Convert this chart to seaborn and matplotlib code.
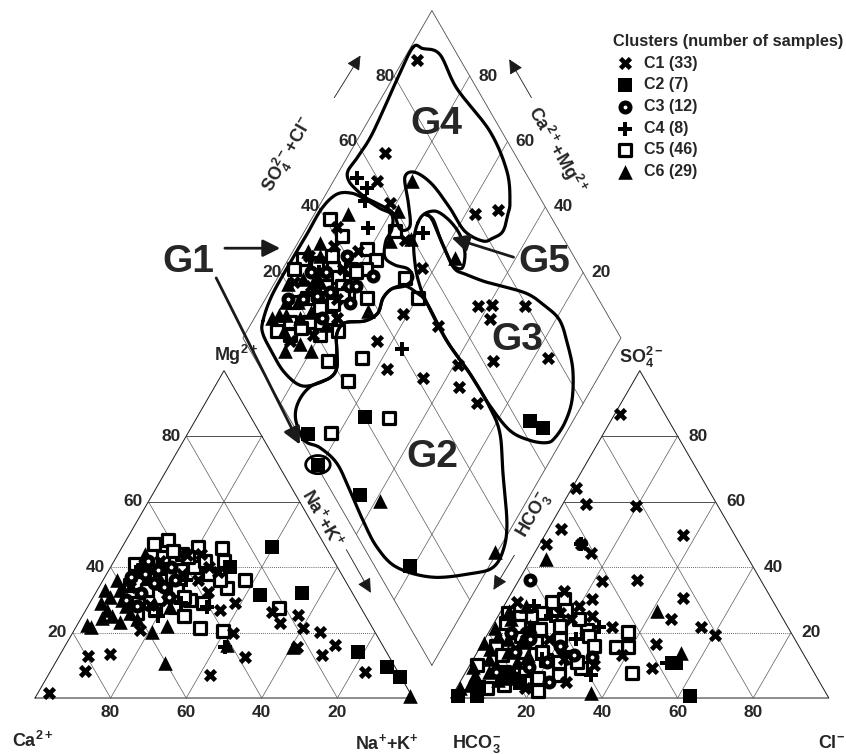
import numpy as np
import pandas as pd
import matplotlib.pyplot as plt
import seaborn as sns
from matplotlib.patches import Ellipse

# cation triangle samples: (Mg2+ %, Na+ + K+ %)
cat_C1 = [(1.5, 3.0), (12.8, 7.6), (8.3, 9.0), (13.5, 13.0), (20.8, 17.4), (7.0, 42.8), (12.5, 49.3),
          (19.9, 42.4), (27.0, 35.4), (32.4, 29.6), (29.0, 38.4), (38.5, 29.1), (43.7, 18.3), (26.3, 49.5),
          (23.0, 53.3), (25.4, 56.9), (21.4, 60.2), (20.2, 65.3), (15.6, 61.5), (13.1, 69.3), (16.2, 71.3),
          (8.0, 83.3), (28.4, 16.2), (42.0, 12.0), (38.0, 20.0), (36.0, 25.0), (34.0, 8.0), (30, 20),
          (40, 26), (44, 22)]
cat_C2 = [(46.2, 39.6), (40.0, 31.6), (31.5, 43.8), (32.1, 54.6), (14.0, 78.4), (9.5, 88.4), (6.4, 93.4)]
cat_C3 = [(38, 10), (35, 14), (32, 12), (40, 16), (30, 9), (36, 19), (42, 9), (28, 13), (34, 17), (37, 7),
          (31, 20), (39, 13)]
cat_C4 = [(27.8, 31.6), (15.6, 42.5), (36, 22), (33, 18), (40, 8), (29, 24), (38, 14), (25, 20)]
cat_C5 = [(48.3, 11.0), (45.9, 26.6), (36.1, 37.6), (33.6, 34.0), (21.4, 33.0), (20.5, 39.5), (27.5, 50.8),
          (43.0, 12.4), (27.0, 18.2), (27.8, 23.1), (30.0, 26.0), (29.0, 12.8), (37.6, 14.3), (34.6, 7.8),
          (40.0, 22.0), (38.0, 27.0), (44.0, 17.0), (35.0, 10.0), (29.0, 30.0), (41.0, 6.0), (33.0, 21.0),
          (25.0, 27.0), (39.0, 19.0), (42.0, 24.0), (46, 20), (42, 29), (36, 31), (31, 24), (26, 14),
          (45, 14), (47, 8), (39, 9), (33, 13), (43, 19)]
cat_C6 = [(22.3, 2.6), (21.7, 4.0), (27.0, 5.5), (23.2, 10.9), (20.2, 20.9), (22.0, 23.9), (10.7, 29.0),
          (16.2, 42.7), (15.6, 60.5), (0.5, 99.0), (31.0, 4.3), (36.0, 3.7), (27.8, 21.8), (24.5, 5.5),
          (38.0, 6.0), (33.0, 6.0), (40.0, 10.0), (30.0, 8.0), (35.0, 16.0), (26.0, 12.0), (24.0, 15.0),
          (29.0, 17.0), (33, 2), (29, 3), (37, 11), (25, 8), (41, 13), (44, 7), (28, 10)]

# anion triangle samples: (SO4 2- %, Cl- %)
an_C1 = [(86.9, 1.2), (64.1, 1.1), (59.3, 6.2), (58.7, 19.6), (49.8, 36.4), (51.7, 3.4), (47.1, 1.7),
         (47.1, 10.9), (44.4, 14.9), (35.6, 22.2), (35.9, 31.3), (30.7, 46.2), (24.0, 46.2), (21.6, 55.5),
         (19.1, 60.4), (16.4, 46.0), (9.1, 48.6), (30.4, 22.2), (25.2, 24.8), (24.0, 19.8), (21.6, 31.8),
         (13.1, 38.8), (32.8, 13.6), (29.2, 3.0), (20.0, 10.0), (15.0, 22.0), (18.0, 17.0), (12, 24),
         (26, 16), (5, 28), (10, 33), (28, 20), (3, 18)]
an_C2 = [(0.5, 1.6), (0.5, 6.8), (3.3, 5.7), (4.6, 15.9), (0.5, 62.9), (10.6, 54.2), (7.0, 12.0)]
an_C3 = [(12.5, 31.2), (4.9, 23.6), (9.4, 16.1), (35.9, 2.9), (14, 10), (18, 12), (11, 20), (8, 8),
         (16, 21), (6, 14), (20, 6), (13, 26)]
an_C4 = [(21.6, 28.4), (7.0, 33.6), (10.6, 51.8), (47.0, 11.0), (25, 14), (12, 18), (18, 24), (28, 8)]
an_C5 = [(29.2, 12.2), (30.4, 14.8), (26.1, 10.8), (25.2, 8.7), (20.7, 25.7), (20.1, 36.8), (15.5, 39.0),
         (15.5, 35.9), (7.6, 44.1), (9.1, 29.9), (12.5, 25.1), (10.9, 23.2), (11.6, 19.5), (24.6, 5.9),
         (17, 14), (22, 18), (14, 12), (19, 9), (9, 15), (6, 20), (23, 3), (16, 4), (8, 10), (13, 7),
         (21, 13), (27, 17), (4, 12), (18, 20), (11, 28), (24, 22), (7, 25), (14, 17), (3, 8), (19, 27),
         (26, 2), (10, 2), (5, 17), (16, 30), (22, 7), (2, 22)]
an_C6 = [(9.4, 1.1), (5.5, 9.7), (1.5, 36.3), (16.7, 0.5), (21.3, 1.0), (42.6, 4.0), (26.7, 41.1),
         (13.7, 54.0), (26.7, 2.1), (12, 4), (18, 6), (8, 6), (14, 8), (22, 10), (4, 3), (19, 3), (28, 6),
         (11, 12), (3, 1), (7, 3), (10, 7), (15, 3), (24, 4), (6, 12), (13, 14), (2, 6), (17, 10)]

# diamond samples: (SO4+Cl %, Ca+Mg %)
dia_C1 = [(88.4, 96.4), (65.8, 90.6), (59.4, 88.5), (59.5, 81.7), (87.0, 52.0), (80.3, 57.5), (58.0, 63.3),
          (46.0, 61.3), (53.4, 50.2), (35.0, 64.1), (33.4, 57.2), (41.5, 46.3), (67.0, 42.7), (70.9, 39.2),
          (68.2, 37.5), (79.5, 30.3), (62.6, 30.4), (77.6, 16.3), (52.8, 39.0), (49.7, 35.4), (52.0, 28.2),
          (43.7, 82.9), (58.0, 72.0), (38.0, 90.0), (30.0, 95.0), (22, 95), (26, 90), (19, 82), (31, 81),
          (37, 84), (12, 87), (42, 92), (28, 78)]
dia_C2 = [(20.2, 55.7), (2.6, 68.2), (0.5, 60.8), (6.9, 45.0), (9.4, 21.0), (63.3, 11.4), (65.6, 7.0)]
dia_C3 = [(44, 75), (33.7, 77), (26, 86.8), (30, 84), (22, 90), (36, 80), (28, 92), (40, 85), (18, 94),
          (24, 82), (32, 88), (38, 78)]
dia_C4 = [(54.6, 94.2), (55.7, 90.0), (53.2, 88.6), (49.8, 83.7), (63.6, 68.4), (40.4, 56.3), (30, 90),
          (25, 88)]
dia_C5 = [(56.5, 76.1), (52.0, 66.3), (52.4, 59.8), (28.4, 65.5), (21.2, 65.7), (19.0, 74.0), (26.4, 49.2),
          (8.8, 62.2), (41.2, 95.1), (41.8, 89.4), (34.5, 86.9), (34.4, 84.2), (34.2, 81.7), (34.7, 79.1),
          (23.0, 89.2), (29.0, 81.4), (46.4, 80.7), (47.1, 76.7), (38.9, 73.3), (26.2, 75.9), (26.0, 80.0),
          (20, 85), (30, 86), (15, 90), (13, 88), (17, 86), (21, 80), (25, 84), (36, 89), (39, 82),
          (43, 78), (31, 92), (19, 92), (10, 92), (28, 96), (24, 97), (33, 80), (40, 80)]
dia_C6 = [(68.6, 79.2), (60.4, 78.4), (59.6, 70.7), (68.3, 56.1), (10.7, 95.4), (20.2, 96.3), (30.5, 96.0),
          (46.8, 91.2), (37.2, 71.1), (9.1, 86.9), (11.4, 38.9), (34.0, 0.5), (15, 92), (18, 88), (25, 93),
          (22, 86), (14, 84), (28, 90), (12, 90), (24, 80), (53.7, 75.9), (17, 94), (27, 86), (33, 92),
          (13, 94), (20, 91), (29, 88), (16, 80), (35, 94)]

# group outlines, diamond coordinates (SO4+Cl %, Ca+Mg %)
G1_line = [(7.9, 97.3), (14.1, 98.8), (23.9, 99.0), (32.8, 98.9), (40.7, 98.9), (46.8, 97.1), (50.9, 93.3),
           (53.5, 88.9), (56.0, 83.6), (58.2, 79.4), (56.0, 77.2), (52.6, 77.0), (49.9, 74.8), (51.3, 71.0),
           (54.2, 66.9), (54.1, 64.2), (50.8, 65.1), (46.9, 68.1), (43.1, 69.0), (39.5, 68.1), (34.9, 70.3),
           (29.3, 75.3), (25.5, 75.8), (22.9, 73.2), (20.3, 70.6), (16.9, 70.9), (10.4, 75.0), (7.3, 78.7),
           (5.6, 84.4), (5.5, 89.6), (5.9, 95.3)]
G2_line = [(0.7, 67.9), (1.4, 73.4), (4.6, 75.5), (10.2, 74.8), (16.9, 70.9), (20.3, 70.6), (22.9, 73.2),
           (25.5, 75.8), (29.3, 75.3), (34.9, 70.3), (39.5, 68.1), (43.1, 69.0), (46.9, 68.1), (50.8, 65.1),
           (52.9, 60.8), (54.0, 56.7), (53.5, 45.6), (54.6, 34.5), (54.7, 24.0), (53.4, 17.4), (48.1, 10.5),
           (41.5, 1.8), (36.4, -1.3), (31.1, -1.2), (24.9, 3.2), (13.7, 13.2), (5.7, 24.2), (3.5, 32.6),
           (3.9, 40.4), (5.0, 48.4), (5.7, 56.0), (3.6, 62.9)]
G3_line = [(63.8, 71.3), (60.0, 69.6), (57.0, 66.0), (55.0, 61.9), (54.0, 56.7), (53.5, 45.6), (54.6, 34.5),
           (55.0, 24.3), (56.5, 15.2), (60.3, 8.4), (64.4, 3.6), (67.3, 2.2), (72.3, 1.9), (77.5, 3.4),
           (82.3, 7.7), (84.8, 12.8), (86.5, 18.8), (84.8, 25.0), (82.1, 31.3), (77.1, 38.5), (72.6, 44.6),
           (68.9, 50.4), (66.6, 54.4), (66.8, 58.9), (67.4, 63.1), (68.1, 68.1), (67.1, 70.8)]
G4_line = [(89.3, 99.4), (91.8, 96.6), (95.4, 91.2), (94.7, 81.5), (96.9, 66.2), (95.3, 55.6), (91.5, 50.2),
           (89.0, 48.8), (85.1, 47.5), (81.4, 49.1), (78.3, 51.3), (75.0, 57.6), (74.6, 65.1), (73.5, 73.5),
           (70.8, 79.8), (67.4, 81.7), (64.6, 77.2), (61.3, 72.9), (58.2, 75.0), (58.8, 79.4), (56.0, 85.1),
           (54.1, 88.5), (52.7, 92.4), (52.0, 95.9), (53.2, 97.7), (57.6, 97.3), (64.1, 96.9), (71.6, 97.6),
           (80.2, 98.7)]
G5_line = [(67.1, 70.8), (68.4, 67.9), (67.4, 63.1), (66.8, 58.9), (66.6, 55.5), (68.6, 52.7), (71.3, 53.8),
           (72.7, 56.3), (73.2, 59.4), (72.4, 63.9), (70.4, 68.3)]

clusters = ['C1', 'C2', 'C3', 'C4', 'C5', 'C6']
counts = [33, 7, 12, 8, 46, 29]
ticks = [20, 40, 60, 80]

sns.set_theme(style='white')
plt.rcParams['font.family'] = ['Liberation Sans', 'DejaVu Sans']
plt.rcParams['font.weight'] = 'bold'
plt.rcParams['mathtext.fontset'] = 'custom'
plt.rcParams['mathtext.rm'] = 'Liberation Sans:bold'
plt.rcParams['mathtext.it'] = 'Liberation Sans:bold'
plt.rcParams['mathtext.bf'] = 'Liberation Sans:bold'
plt.rcParams['mathtext.default'] = 'rm'

H = np.sqrt(3) / 2
GAP = 10


def cat_xy(mg, na):
    return na + mg / 2, mg * H


def an_xy(so4, cl):
    return 100 + GAP + cl + so4 / 2, so4 * H


def dia_xy(s, c):
    return 100 + GAP / 2 + (s - c) / 2, GAP * H + (s + c) * H


def smooth_closed(pts, n=14):
    pts = np.asarray(pts, float)
    N = len(pts)
    t = np.linspace(0, 1, n, endpoint=False)[:, None]
    out = []
    for i in range(N):
        p0, p1, p2, p3 = pts[(i - 1) % N], pts[i], pts[(i + 1) % N], pts[(i + 2) % N]
        out.append(0.5 * (2 * p1 + (-p0 + p2) * t + (2 * p0 - 5 * p1 + 4 * p2 - p3) * t ** 2
                          + (-p0 + 3 * p1 - 3 * p2 + p3) * t ** 3))
    out = np.vstack(out)
    return np.vstack([out, out[:1]])


fig = plt.figure(figsize=(8.46, 7.54), dpi=100)
ax = fig.add_axes([0, 0, 1, 1])

gkw = dict(color='0.35', lw=0.5, zorder=1)
# ternary grids
for fn in (cat_xy, an_xy):
    corners = [fn(0, 0), fn(0, 100), fn(100, 0), fn(0, 0)]
    ax.plot([p[0] for p in corners], [p[1] for p in corners], color='k', lw=0.7, zorder=1)
    for k in ticks:
        seg = [fn(k, 0), fn(k, 100 - k)]
        ax.plot([seg[0][0], seg[1][0]], [seg[0][1], seg[1][1]], color='0.2', lw=0.6,
                ls='-' if k >= 60 else (0, (1, 1.5)), zorder=1)
        for seg in ([fn(0, k), fn(100 - k, k)], [fn(0, 100 - k), fn(100 - k, 0)]):
            ax.plot([seg[0][0], seg[1][0]], [seg[0][1], seg[1][1]], **gkw)

# diamond frame and grid
dc = [dia_xy(0, 0), dia_xy(100, 0), dia_xy(100, 100), dia_xy(0, 100), dia_xy(0, 0)]
ax.plot([p[0] for p in dc], [p[1] for p in dc], color='0.3', lw=0.6, zorder=1)
for k in ticks:
    for seg in ([dia_xy(k, 0), dia_xy(k, 100)], [dia_xy(0, k), dia_xy(100, k)]):
        ax.plot([seg[0][0], seg[1][0]], [seg[0][1], seg[1][1]], **gkw)

# tick labels
tk = dict(fontsize=12.5, fontweight='bold', va='center')
for k in ticks:
    x, y = cat_xy(k, 0)
    ax.text(x - 1.5, y, str(k), ha='right', **tk)
    x, y = cat_xy(0, k)
    ax.text(x, -3.8, str(100 - k), ha='center', **tk)
    x, y = an_xy(0, k)
    ax.text(x, -3.8, str(k), ha='center', **tk)
    x, y = an_xy(k, 100 - k)
    ax.text(x + 2.8, y, str(k), ha='left', **tk)
    x, y = dia_xy(k, 100)
    ax.text(x + 0.3, y, str(k), ha='right', **tk)
    x, y = dia_xy(100, k)
    ax.text(x + 2.2, y, str(k), ha='left', **tk)

# corner and axis titles
lab = dict(fontsize=13, fontweight='bold', ha='center', va='center')
ax.text(53.2, 90.7, r'Mg$^{2+}$', **lab)
ax.text(160.3, 90.2, r'SO$_4^{2-}$', **lab)
ax.text(-6.1, -11.4, r'Ca$^{2+}$', fontsize=13, fontweight='bold', ha='left', va='center')
ax.text(93.1, -11.9, r'Na$^{+}$+K$^{+}$', **lab)
ax.text(116.7, -12.2, r'HCO$_3^{-}$', **lab)
ax.text(214.2, -11.9, r'Cl$^{-}$', fontsize=13, fontweight='bold', ha='right', va='center')
ax.text(66.9, 143.7, r'SO$_4^{2-}$+Cl$^{-}$', rotation=60, **lab)
ax.text(138.1, 145.0, r'Ca$^{2+}$+Mg$^{2+}$', rotation=-60, **lab)
ax.text(76.2, 47.6, r'Na$^{+}$+K$^{+}$', rotation=-60, **lab)
ax.text(132.0, 48.4, r'HCO$_3^{-}$', rotation=60, **lab)

# direction arrows beside the diamond
for tail, tip in [((78.8, 158.2), (86.5, 170.6)), ((131.7, 158.2), (125.1, 169.6)),
                  ((82.0, 39.9), (89.2, 27.2)), ((127.2, 38.4), (120.9, 28.0))]:
    ax.annotate('', xy=tip, xytext=tail,
                arrowprops=dict(arrowstyle='-|>', lw=0.6, color='k', mutation_scale=22))

# samples
rows = []
for name, cat, an, dia in zip(clusters, [cat_C1, cat_C2, cat_C3, cat_C4, cat_C5, cat_C6],
                              [an_C1, an_C2, an_C3, an_C4, an_C5, an_C6],
                              [dia_C1, dia_C2, dia_C3, dia_C4, dia_C5, dia_C6]):
    for a, b in cat:
        rows.append((name, *cat_xy(a, b)))
    for a, b in an:
        rows.append((name, *an_xy(a, b)))
    for a, b in dia:
        rows.append((name, *dia_xy(a, b)))
df = pd.DataFrame(rows, columns=['cluster', 'x', 'y'])

styles = {
    'C1': dict(marker='X', s=90, color='black', linewidth=0),
    'C2': dict(marker='s', s=95, color='black', linewidth=0),
    'C3': dict(marker='o', s=42, color='white', linewidth=3.6),
    'C4': dict(marker='P', s=90, color='black', linewidth=0),
    'C5': dict(marker='s', s=70, color='white', linewidth=2.3),
    'C6': dict(marker='^', s=110, color='black', linewidth=0),
}
# open squares first so that the dense groups stay mostly black
for name in ['C5', 'C6', 'C1', 'C4', 'C3', 'C2']:
    i = clusters.index(name)
    sns.scatterplot(data=df[df.cluster == name], x='x', y='y', edgecolor='black', ax=ax,
                    label=f'{name} ({counts[i]})', zorder=4, **styles[name])

# group outlines
for line in (G1_line, G2_line, G3_line, G4_line, G5_line):
    xy = np.array([dia_xy(s, c) for s, c in line])
    sm = smooth_closed(xy)
    ax.plot(sm[:, 0], sm[:, 1], color='black', lw=2.3, zorder=5, solid_capstyle='round')

ex, ey = dia_xy(*dia_C2[2])
ax.add_patch(Ellipse((ex, ey), 6.5, 4.8, fill=False, lw=2.0, color='black', zorder=5))

gl = dict(fontsize=28, fontweight='bold', ha='center', va='center', zorder=6)
ax.text(40.7, 115.3, 'G1', **gl)
ax.text(106.1, 151.9, 'G4', **gl)
ax.text(127.5, 94.7, 'G3', **gl)
ax.text(105.0, 63.8, 'G2', **gl)
ax.text(134.7, 115.3, 'G5', **gl)

bold_arrow = dict(arrowstyle='-|>', lw=2.0, color='k', mutation_scale=26)
ax.annotate('', xy=(65.6, 119.0), xytext=(49.5, 119.0), arrowprops=bold_arrow, zorder=6)
ax.annotate('', xy=(70.4, 66.4), xytext=(47.6, 111.8), arrowprops=bold_arrow, zorder=6)
ax.annotate('', xy=(109.5, 122.0), xytext=(127.3, 116.4), arrowprops=bold_arrow, zorder=6)

handles, labels = ax.get_legend_handles_labels()
order = sorted(range(len(labels)), key=lambda j: labels[j])
leg = ax.legend([handles[j] for j in order], [labels[j] for j in order],
                title='Clusters (number of samples)', loc='upper left',
                bbox_to_anchor=(0.725, 0.955), frameon=False, fontsize=11.5,
                title_fontproperties={'weight': 'bold', 'size': 11.8},
                labelspacing=0.42, handletextpad=0.5, borderpad=0, handlelength=1.4,
                borderaxespad=0)
leg._legend_box.align = 'left'
for t in leg.get_texts():
    t.set_fontweight('bold')

ax.set_xlim(-9.26, 214.55)
ax.set_ylim(-14.81, 184.66)
ax.set_axis_off()
fig.savefig('out.png', dpi=100)
